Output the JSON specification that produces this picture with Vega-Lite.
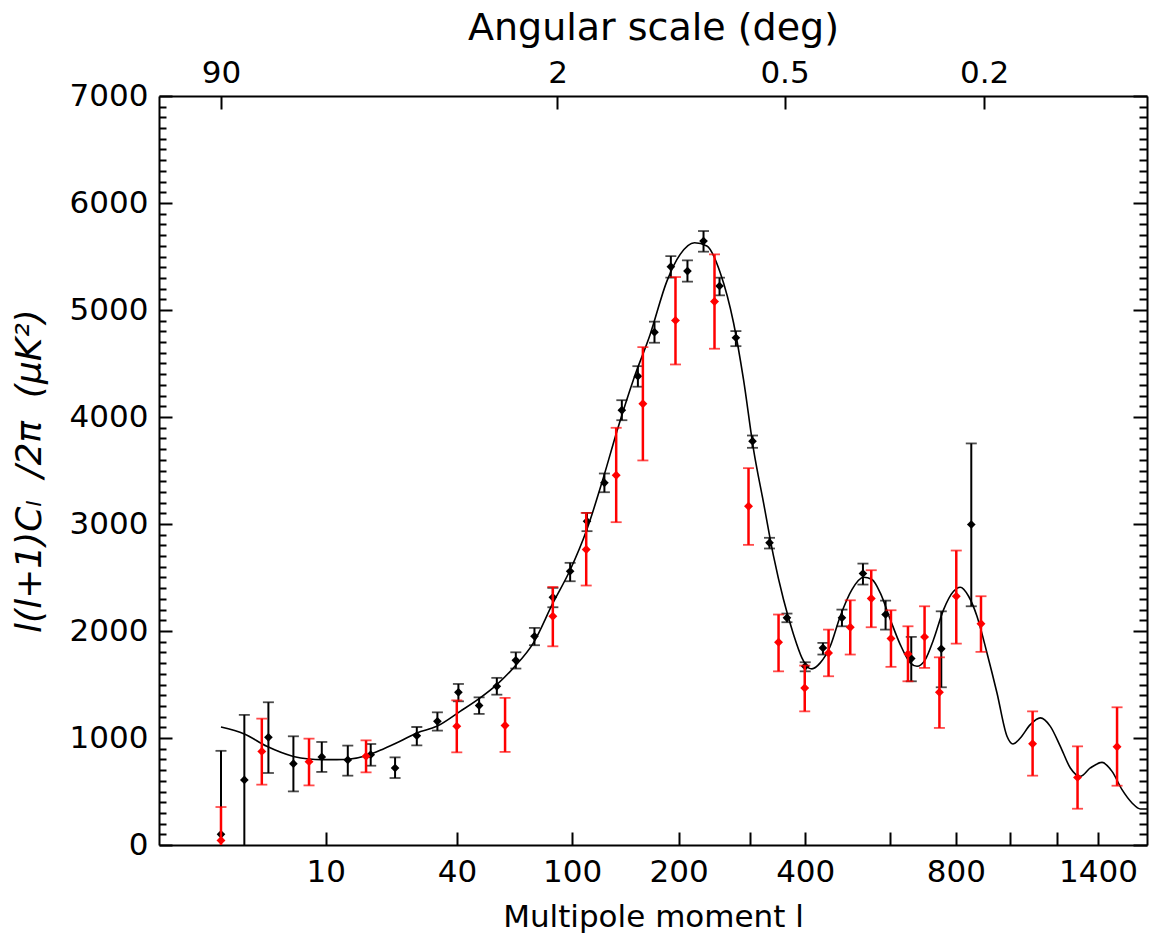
{
  "$schema": "https://vega.github.io/schema/vega-lite/v6.json",
  "width": 988,
  "height": 749,
  "autosize": "none",
  "padding": {"left": 159, "top": 96, "right": 3, "bottom": 101},
  "background": "white",
  "config": {
    "view": {"stroke": null},
    "font": "DejaVu Sans",
    "axis": {
      "domainColor": "black",
      "domainWidth": 2,
      "tickColor": "black",
      "tickWidth": 2,
      "labelColor": "black",
      "titleColor": "black",
      "labelFont": "DejaVu Sans",
      "titleFont": "DejaVu Sans",
      "labelFontSize": 31,
      "titleFontSize": 31,
      "titleFontWeight": "normal",
      "grid": false,
      "labelFlush": false,
      "labelOverlap": false,
      "labelBound": false
    }
  },
  "datasets": {
    "model": [
      {"l": 2.0, "v": 1103}, {"l": 3.04, "v": 1038}, {"l": 4.38, "v": 922}, {"l": 6.49, "v": 828},
      {"l": 8.04, "v": 804}, {"l": 9.5, "v": 798}, {"l": 11.46, "v": 798}, {"l": 13.44, "v": 804},
      {"l": 16.14, "v": 835}, {"l": 19.51, "v": 898}, {"l": 23.24, "v": 969}, {"l": 27.48, "v": 1047},
      {"l": 33.28, "v": 1109}, {"l": 41.16, "v": 1249}, {"l": 48.97, "v": 1375}, {"l": 56.3, "v": 1499},
      {"l": 64.37, "v": 1655}, {"l": 75.21, "v": 1889}, {"l": 87.0, "v": 2260}, {"l": 98.6, "v": 2570},
      {"l": 110.9, "v": 2948}, {"l": 124.2, "v": 3435}, {"l": 135.8, "v": 3865}, {"l": 151.3, "v": 4351},
      {"l": 168.1, "v": 4772}, {"l": 186.4, "v": 5270}, {"l": 201.9, "v": 5520}, {"l": 219.7, "v": 5629},
      {"l": 236.0, "v": 5598}, {"l": 254.6, "v": 5349}, {"l": 274.2, "v": 4881}, {"l": 289.6, "v": 4351},
      {"l": 305.8, "v": 3696}, {"l": 322.5, "v": 3200}, {"l": 340.0, "v": 2699}, {"l": 358.1, "v": 2294},
      {"l": 377.0, "v": 1967}, {"l": 393.4, "v": 1749}, {"l": 406.7, "v": 1655}, {"l": 413.7, "v": 1646},
      {"l": 431.0, "v": 1702}, {"l": 452.7, "v": 1857}, {"l": 475.2, "v": 2138}, {"l": 502.5, "v": 2387},
      {"l": 530.8, "v": 2502}, {"l": 552.0, "v": 2481}, {"l": 573.6, "v": 2356}, {"l": 600.4, "v": 2107},
      {"l": 628.1, "v": 1873}, {"l": 656.8, "v": 1702}, {"l": 676.5, "v": 1670}, {"l": 701.7, "v": 1733},
      {"l": 727.4, "v": 1920}, {"l": 759.5, "v": 2200}, {"l": 792.5, "v": 2371}, {"l": 815.2, "v": 2409},
      {"l": 844.1, "v": 2325}, {"l": 874.0, "v": 2138}, {"l": 910.7, "v": 1795}, {"l": 948.6, "v": 1421},
      {"l": 987.6, "v": 1016}, {"l": 1011.6, "v": 944}, {"l": 1041.4, "v": 1000}, {"l": 1083.2, "v": 1125},
      {"l": 1126.3, "v": 1188}, {"l": 1170.7, "v": 1109}, {"l": 1216.4, "v": 922}, {"l": 1263.3, "v": 720},
      {"l": 1311.6, "v": 641}, {"l": 1361.3, "v": 720}, {"l": 1421.3, "v": 772}, {"l": 1474.0, "v": 688},
      {"l": 1528.2, "v": 517}, {"l": 1583.9, "v": 393}, {"l": 1631.4, "v": 337}, {"l": 1670.0, "v": 337}
    ],
    "wmap": [
      {"l": 2.0, "v": 100, "lo": 0, "hi": 880},
      {"l": 3.04, "v": 608, "lo": 0, "hi": 1216},
      {"l": 4.49, "v": 1006, "lo": 673, "hi": 1334},
      {"l": 6.49, "v": 760, "lo": 501, "hi": 1016},
      {"l": 9.5, "v": 823, "lo": 683, "hi": 963},
      {"l": 13.08, "v": 795, "lo": 648, "hi": 929},
      {"l": 17.0, "v": 844, "lo": 741, "hi": 944},
      {"l": 22.07, "v": 720, "lo": 626, "hi": 819},
      {"l": 27.48, "v": 1022, "lo": 931, "hi": 1103},
      {"l": 33.47, "v": 1156, "lo": 1069, "hi": 1240},
      {"l": 40.54, "v": 1427, "lo": 1343, "hi": 1505},
      {"l": 48.55, "v": 1303, "lo": 1225, "hi": 1380},
      {"l": 56.3, "v": 1483, "lo": 1405, "hi": 1562},
      {"l": 65.6, "v": 1726, "lo": 1649, "hi": 1801},
      {"l": 75.8, "v": 1951, "lo": 1867, "hi": 2029},
      {"l": 87.0, "v": 2315, "lo": 2222, "hi": 2403},
      {"l": 98.6, "v": 2558, "lo": 2465, "hi": 2637},
      {"l": 111.0, "v": 3026, "lo": 2933, "hi": 3104},
      {"l": 125.0, "v": 3385, "lo": 3297, "hi": 3472},
      {"l": 140.3, "v": 4064, "lo": 3970, "hi": 4157},
      {"l": 155.6, "v": 4382, "lo": 4283, "hi": 4475},
      {"l": 172.7, "v": 4793, "lo": 4694, "hi": 4891},
      {"l": 190.9, "v": 5405, "lo": 5302, "hi": 5504},
      {"l": 210.8, "v": 5364, "lo": 5265, "hi": 5464},
      {"l": 231.5, "v": 5644, "lo": 5545, "hi": 5738},
      {"l": 253.6, "v": 5224, "lo": 5137, "hi": 5302},
      {"l": 277.8, "v": 4741, "lo": 4662, "hi": 4803},
      {"l": 304.1, "v": 3774, "lo": 3712, "hi": 3827},
      {"l": 332.9, "v": 2824, "lo": 2771, "hi": 2871},
      {"l": 364.5, "v": 2123, "lo": 2082, "hi": 2163},
      {"l": 400.0, "v": 1670, "lo": 1623, "hi": 1708},
      {"l": 436.8, "v": 1842, "lo": 1780, "hi": 1889},
      {"l": 479.1, "v": 2123, "lo": 2044, "hi": 2200},
      {"l": 529.3, "v": 2537, "lo": 2434, "hi": 2630},
      {"l": 587.7, "v": 2154, "lo": 2013, "hi": 2284},
      {"l": 659.7, "v": 1742, "lo": 1530, "hi": 1945},
      {"l": 752.0, "v": 1833, "lo": 1474, "hi": 2184},
      {"l": 853.6, "v": 2995, "lo": 2231, "hi": 3753}
    ],
    "other": [
      {"l": 2.0, "v": 43, "lo": 0, "hi": 355},
      {"l": 4.05, "v": 875, "lo": 564, "hi": 1181},
      {"l": 8.04, "v": 779, "lo": 557, "hi": 994},
      {"l": 16.14, "v": 829, "lo": 679, "hi": 978},
      {"l": 39.96, "v": 1109, "lo": 866, "hi": 1352},
      {"l": 60.2, "v": 1116, "lo": 870, "hi": 1375},
      {"l": 86.98, "v": 2138, "lo": 1857, "hi": 2412},
      {"l": 110.4, "v": 2761, "lo": 2425, "hi": 3104},
      {"l": 135.2, "v": 3456, "lo": 3017, "hi": 3899},
      {"l": 160.6, "v": 4124, "lo": 3594, "hi": 4653},
      {"l": 196.3, "v": 4903, "lo": 4491, "hi": 5308},
      {"l": 246.5, "v": 5080, "lo": 4638, "hi": 5520},
      {"l": 297.6, "v": 3166, "lo": 2805, "hi": 3522},
      {"l": 349.0, "v": 1895, "lo": 1623, "hi": 2154},
      {"l": 399.0, "v": 1468, "lo": 1249, "hi": 1677},
      {"l": 449.0, "v": 1795, "lo": 1577, "hi": 2013},
      {"l": 498.5, "v": 2035, "lo": 1780, "hi": 2287},
      {"l": 550.2, "v": 2303, "lo": 2035, "hi": 2568},
      {"l": 602.3, "v": 1929, "lo": 1665, "hi": 2194},
      {"l": 650.1, "v": 1786, "lo": 1530, "hi": 2044},
      {"l": 699.5, "v": 1945, "lo": 1655, "hi": 2231},
      {"l": 746.0, "v": 1427, "lo": 1094, "hi": 1754},
      {"l": 801.6, "v": 2325, "lo": 1882, "hi": 2752},
      {"l": 888.6, "v": 2067, "lo": 1805, "hi": 2325},
      {"l": 1093.0, "v": 947, "lo": 648, "hi": 1249},
      {"l": 1298.0, "v": 632, "lo": 339, "hi": 922},
      {"l": 1501.0, "v": 919, "lo": 554, "hi": 1287}
    ]
  },
  "resolve": {"axis": {"x": "independent", "y": "independent"}},
  "layer": [
    {
      "data": {"name": "model"},
      "mark": {"type": "line", "color": "black", "strokeWidth": 1.6, "interpolate": "monotone", "clip": true},
      "encoding": {
        "x": {
          "field": "l", "type": "quantitative",
          "scale": {"type": "pow", "exponent": 0.25, "domain": [0.5, 1670], "nice": false, "zero": false},
          "axis": {
            "orient": "bottom",
            "values": [10, 40, 100, 200, 300, 400, 600, 800, 1000, 1200, 1400],
            "format": "d",
            "labelExpr": "indexof([10, 40, 100, 200, 400, 800, 1400], datum.value) >= 0 ? datum.label : ''",
            "tickSize": -13,
            "labelPadding": 25,
            "title": "Multipole moment l",
            "titlePadding": 15
          }
        },
        "y": {
          "field": "v", "type": "quantitative",
          "scale": {"domain": [0, 7000], "nice": false, "zero": false},
          "axis": {
            "orient": "left",
            "values": [0, 100, 200, 300, 400, 500, 600, 700, 800, 900, 1000, 1100, 1200, 1300, 1400, 1500, 1600, 1700, 1800, 1900, 2000, 2100, 2200, 2300, 2400, 2500, 2600, 2700, 2800, 2900, 3000, 3100, 3200, 3300, 3400, 3500, 3600, 3700, 3800, 3900, 4000, 4100, 4200, 4300, 4400, 4500, 4600, 4700, 4800, 4900, 5000, 5100, 5200, 5300, 5400, 5500, 5600, 5700, 5800, 5900, 6000, 6100, 6200, 6300, 6400, 6500, 6600, 6700, 6800, 6900, 7000],
            "format": "d",
            "labelExpr": "datum.value % 1000 === 0 ? datum.label : ''",
            "tickSize": {"condition": {"test": "datum.value % 1000 === 0", "value": -13}, "value": -7},
            "labelPadding": 24,
            "title": "l(l+1)Cₗ\u00a0\u00a0/2π\u00a0\u00a0(μK²)",
            "titleFontStyle": "italic",
            "titleFontSize": 36,
            "titlePadding": 21
          }
        }
      }
    },
    {
      "data": {"name": "wmap"},
      "mark": {"type": "rule", "color": "black", "strokeWidth": 2, "clip": true},
      "encoding": {
        "x": {"field": "l", "type": "quantitative", "scale": {"type": "pow", "exponent": 0.25, "domain": [0.5, 1670], "nice": false, "zero": false}, "axis": null},
        "y": {"field": "lo", "type": "quantitative", "scale": {"domain": [0, 7000], "nice": false, "zero": false}, "axis": null},
        "y2": {"field": "hi"}
      }
    },
    {
      "data": {"name": "wmap"},
      "mark": {"type": "tick", "orient": "horizontal", "color": "black", "size": 11, "thickness": 1.8},
      "encoding": {
        "x": {"field": "l", "type": "quantitative", "scale": {"type": "pow", "exponent": 0.25, "domain": [0.5, 1670], "nice": false, "zero": false}, "axis": null},
        "y": {"field": "hi", "type": "quantitative", "scale": {"domain": [0, 7000], "nice": false, "zero": false}, "axis": null}
      }
    },
    {
      "data": {"name": "wmap"},
      "transform": [{"filter": "datum.lo > 0"}],
      "mark": {"type": "tick", "orient": "horizontal", "color": "black", "size": 11, "thickness": 1.8},
      "encoding": {
        "x": {"field": "l", "type": "quantitative", "scale": {"type": "pow", "exponent": 0.25, "domain": [0.5, 1670], "nice": false, "zero": false}, "axis": null},
        "y": {"field": "lo", "type": "quantitative", "scale": {"domain": [0, 7000], "nice": false, "zero": false}, "axis": null}
      }
    },
    {
      "data": {"name": "wmap"},
      "mark": {"type": "point", "shape": "diamond", "filled": true, "color": "black", "size": 75, "opacity": 1},
      "encoding": {
        "x": {"field": "l", "type": "quantitative", "scale": {"type": "pow", "exponent": 0.25, "domain": [0.5, 1670], "nice": false, "zero": false}, "axis": null},
        "y": {"field": "v", "type": "quantitative", "scale": {"domain": [0, 7000], "nice": false, "zero": false}, "axis": null}
      }
    },
    {
      "data": {"name": "other"},
      "mark": {"type": "rule", "color": "#ff0000", "strokeWidth": 2.5, "clip": true},
      "encoding": {
        "x": {"field": "l", "type": "quantitative", "scale": {"type": "pow", "exponent": 0.25, "domain": [0.5, 1670], "nice": false, "zero": false}, "axis": null},
        "y": {"field": "lo", "type": "quantitative", "scale": {"domain": [0, 7000], "nice": false, "zero": false}, "axis": null},
        "y2": {"field": "hi"}
      }
    },
    {
      "data": {"name": "other"},
      "mark": {"type": "tick", "orient": "horizontal", "color": "#ff0000", "size": 11, "thickness": 1.8},
      "encoding": {
        "x": {"field": "l", "type": "quantitative", "scale": {"type": "pow", "exponent": 0.25, "domain": [0.5, 1670], "nice": false, "zero": false}, "axis": null},
        "y": {"field": "hi", "type": "quantitative", "scale": {"domain": [0, 7000], "nice": false, "zero": false}, "axis": null}
      }
    },
    {
      "data": {"name": "other"},
      "transform": [{"filter": "datum.lo > 0"}],
      "mark": {"type": "tick", "orient": "horizontal", "color": "#ff0000", "size": 11, "thickness": 1.8},
      "encoding": {
        "x": {"field": "l", "type": "quantitative", "scale": {"type": "pow", "exponent": 0.25, "domain": [0.5, 1670], "nice": false, "zero": false}, "axis": null},
        "y": {"field": "lo", "type": "quantitative", "scale": {"domain": [0, 7000], "nice": false, "zero": false}, "axis": null}
      }
    },
    {
      "data": {"name": "other"},
      "mark": {"type": "point", "shape": "diamond", "filled": true, "color": "#ff0000", "size": 80, "opacity": 1},
      "encoding": {
        "x": {
          "field": "l", "type": "quantitative",
          "scale": {"type": "pow", "exponent": 0.25, "domain": [0.5, 1670], "nice": false, "zero": false},
          "axis": {
            "orient": "top",
            "values": [2, 90, 360, 900],
            "labelExpr": "'' + (180 / datum.value)",
            "tickSize": -13,
            "labelPadding": 20,
            "title": "Angular scale (deg)",
            "titleFontSize": 38,
            "titlePadding": 10
          }
        },
        "y": {
          "field": "v", "type": "quantitative",
          "scale": {"domain": [0, 7000], "nice": false, "zero": false},
          "axis": {
            "orient": "right",
            "values": [0, 100, 200, 300, 400, 500, 600, 700, 800, 900, 1000, 1100, 1200, 1300, 1400, 1500, 1600, 1700, 1800, 1900, 2000, 2100, 2200, 2300, 2400, 2500, 2600, 2700, 2800, 2900, 3000, 3100, 3200, 3300, 3400, 3500, 3600, 3700, 3800, 3900, 4000, 4100, 4200, 4300, 4400, 4500, 4600, 4700, 4800, 4900, 5000, 5100, 5200, 5300, 5400, 5500, 5600, 5700, 5800, 5900, 6000, 6100, 6200, 6300, 6400, 6500, 6600, 6700, 6800, 6900, 7000],
            "labels": false,
            "tickSize": {"condition": {"test": "datum.value % 1000 === 0", "value": -14}, "value": -8},
            "title": null
          }
        }
      }
    }
  ]
}
